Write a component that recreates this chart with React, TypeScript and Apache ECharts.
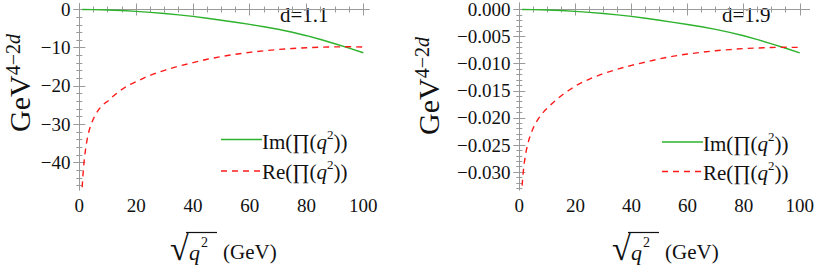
import React, { useEffect, useRef } from "react";
import * as echarts from "echarts";

// ---- data ----
const xIm = [1, 5, 10, 15, 20, 25, 30, 35, 40, 45, 50, 55, 60, 65, 70, 75, 80, 85, 90, 95, 100];
const imLeft = [0, -0.03, -0.12, -0.27, -0.48, -0.75, -1.05, -1.4, -1.8, -2.28, -2.8, -3.34, -3.9, -4.5, -5.17, -5.95, -6.85, -7.85, -8.95, -10.1, -11.3];
const imRight = [0, -0.00002, -0.00008, -0.00019, -0.00034, -0.00053, -0.00074, -0.00099, -0.00127, -0.00161, -0.00198, -0.00237, -0.00276, -0.00319, -0.00366, -0.00421, -0.00485, -0.00556, -0.00634, -0.00715, -0.008];

const xRe = [1, 1.25, 1.5, 1.75, 2, 2.5, 3, 3.5, 4, 5, 6, 7, 8, 9, 10, 12, 14, 16, 18, 20, 23, 26, 30, 35, 40, 45, 50, 55, 60, 65, 70, 75, 80, 85, 90, 95, 100];
const reLeft = [-46.5, -43.5, -41.2, -39.2, -37.6, -35.0, -33.0, -31.5, -30.3, -28.5, -27.1, -26.0, -25.1, -24.5, -24.0, -22.6, -21.4, -20.4, -19.6, -18.9, -17.8, -16.9, -15.9, -14.8, -13.9, -13.0, -12.3, -11.7, -11.2, -10.8, -10.45, -10.2, -10.0, -9.85, -9.78, -9.75, -9.82];
const reRight = [-0.0325, -0.0308, -0.0295, -0.0284, -0.0275, -0.026, -0.0249, -0.0239, -0.0231, -0.0218, -0.0208, -0.02, -0.0193, -0.0187, -0.0182, -0.0172, -0.0163, -0.0155, -0.0148, -0.0141, -0.0133, -0.0126, -0.0118, -0.011, -0.0103, -0.0097, -0.0091, -0.0086, -0.0082, -0.0079, -0.0076, -0.0074, -0.0072, -0.0071, -0.007, -0.00697, -0.007];

// ---- ticks ----
const xMajor = [0, 20, 40, 60, 80, 100];
const xMinor = [5, 10, 15, 25, 30, 35, 45, 50, 55, 65, 70, 75, 85, 90, 95];
const yMajorLeft = [0, -10, -20, -30, -40];
const yMinorLeft = [-2, -4, -6, -8, -12, -14, -16, -18, -22, -24, -26, -28, -32, -34, -36, -38, -42, -44, -46];
const yMajorRight = [0, -0.005, -0.01, -0.015, -0.02, -0.025, -0.03];
const yMinorRight = [
  -0.001, -0.002, -0.003, -0.004, -0.006, -0.007, -0.008, -0.009, -0.011, -0.012, -0.013, -0.014,
  -0.016, -0.017, -0.018, -0.019, -0.021, -0.022, -0.023, -0.024, -0.026, -0.027, -0.028, -0.029,
  -0.031, -0.032, -0.033,
];
const dLabels = ["d=1.1", "d=1.9"];

const SERIF = "Liberation Serif";
const FRAME = "#9a9a9a";
const GREEN = "#2db22d";
const RED = "#ff1a1a";
const INK = "#111";

function zip(xs: number[], ys: number[]) {
  return xs.map((x, i) => [x, ys[i]]);
}

export default function App() {
  const ref = useRef<HTMLDivElement>(null);
  useEffect(() => {
    document.body.style.margin = "0";
    const chart = echarts.init(ref.current!, null, { renderer: "svg" });

    const grids = [
      { left: 76.5, top: 0.5, width: 292.5, height: 189.5 },
      { left: 516.5, top: 0.5, width: 293.5, height: 189.5 },
    ];
    const panels = [
      { xMin: -1, xMax: 102, yMin: -47.2, yMax: 1.6, major: yMajorLeft, minor: yMinorLeft, fmt: (v: number) => (v === 0 ? "0" : "\u2212" + Math.abs(v)) },
      { xMin: -1, xMax: 103.5, yMin: -0.0333, yMax: 0.0012, major: yMajorRight, minor: yMinorRight, fmt: (v: number) => (v === 0 ? "0.000" : "\u2212" + Math.abs(v).toFixed(3)) },
    ];

    const tickLabel = { fontFamily: SERIF, fontSize: 19, color: INK };
    const xAxes: any[] = [];
    const yAxes: any[] = [];
    const series: any[] = [];

    panels.forEach((pn, g) => {
      const baseX = { type: "value", gridIndex: g, min: pn.xMin, max: pn.xMax, splitLine: { show: false } };
      const sides: [string, boolean, number, number[], boolean][] = [
        ["bottom", true, 6, xMajor, true],
        ["bottom", false, 3, xMinor, false],
        ["top", true, 6, xMajor, false],
        ["top", false, 3, xMinor, false],
      ];
      sides.forEach(([pos, line, len, vals, lab]) => {
        xAxes.push({
          ...baseX,
          position: pos,
          axisLine: { show: line, lineStyle: { color: FRAME, width: 1 } },
          axisTick: { show: true, inside: true, length: len, customValues: vals, lineStyle: { color: FRAME } },
          axisLabel: lab ? { show: true, customValues: xMajor, margin: 6, ...tickLabel } : { show: false },
        });
      });
      const baseY = { type: "value", gridIndex: g, min: pn.yMin, max: pn.yMax, splitLine: { show: false } };
      const ySides: [string, boolean, number, number[], boolean][] = [
        ["left", true, 6, pn.major, true],
        ["left", false, 3, pn.minor, false],
        ["right", true, 6, pn.major, false],
        ["right", false, 3, pn.minor, false],
      ];
      ySides.forEach(([pos, line, len, vals, lab]) => {
        yAxes.push({
          ...baseY,
          position: pos,
          axisLine: { show: line, lineStyle: { color: FRAME, width: 1 } },
          axisTick: { show: true, inside: true, length: len, customValues: vals, lineStyle: { color: FRAME } },
          axisLabel: lab ? { show: true, customValues: pn.major, formatter: pn.fmt, margin: 6, ...tickLabel } : { show: false },
        });
      });

      series.push({
        type: "line",
        name: "Im",
        xAxisIndex: 4 * g,
        yAxisIndex: 4 * g,
        data: zip(xIm, g === 0 ? imLeft : imRight),
        showSymbol: false,
        lineStyle: { color: GREEN, width: 1.4 },
        z: 3,
      });
      series.push({
        type: "line",
        name: "Re",
        xAxisIndex: 4 * g,
        yAxisIndex: 4 * g,
        data: zip(xRe, g === 0 ? reLeft : reRight),
        showSymbol: false,
        lineStyle: { color: RED, width: 1.4, type: [6, 5] },
        z: 4,
      });
    });

    const graphics: any[] = [];
    const panelOffsets = [
      { yTitleX: 19, yTitleY: 83, legX: 221, imY: 139.5, reY: 171, dX: 280, sqrtX: 170 },
      { yTitleX: 428, yTitleY: 86, legX: 662, imY: 142, reY: 171.5, dX: 722, sqrtX: 612 },
    ];
    panelOffsets.forEach((p, g) => {
      graphics.push({
        type: "text",
        x: p.yTitleX,
        y: p.yTitleY,
        rotation: Math.PI / 2,
        style: {
          text: "{g|GeV}{s|4\u22122}{d|d}",
          align: "center",
          verticalAlign: "middle",
          fill: INK,
          rich: {
            g: { fontSize: 30, fontFamily: SERIF, lineHeight: 33, fill: INK },
            s: { fontSize: 20, fontFamily: SERIF, lineHeight: 20, verticalAlign: "top", fill: INK },
            d: { fontSize: 20, fontFamily: SERIF, fontStyle: "italic", lineHeight: 20, verticalAlign: "top", fill: INK },
          },
        },
      });
      graphics.push({
        type: "text",
        x: p.dX,
        y: 15,
        style: { text: dLabels[g], fontSize: 21, fontFamily: SERIF, fill: INK, align: "left", verticalAlign: "middle" },
      });
      graphics.push({
        type: "line",
        shape: { x1: p.legX, y1: p.imY, x2: p.legX + 41, y2: p.imY },
        style: { stroke: GREEN, lineWidth: 1.4 },
      });
      graphics.push({
        type: "line",
        shape: { x1: p.legX, y1: p.reY, x2: p.legX + 41, y2: p.reY },
        style: { stroke: RED, lineWidth: 1.4, lineDash: [6, 5] },
      });
      const legRich = {
        a: { fontSize: 21, fontFamily: SERIF, lineHeight: 28, fill: INK },
        q: { fontSize: 21, fontFamily: SERIF, fontStyle: "italic", lineHeight: 28, fill: INK },
        s: { fontSize: 13, fontFamily: SERIF, lineHeight: 13, verticalAlign: "top", fill: INK },
      };
      graphics.push({
        type: "text",
        x: p.legX + 41,
        y: p.imY + 2,
        style: { text: "{a|Im(\u220F(}{q|q}{s|2}{a|))}", align: "left", verticalAlign: "middle", rich: legRich },
      });
      graphics.push({
        type: "text",
        x: p.legX + 41,
        y: p.reY + 1,
        style: { text: "{a|Re(\u220F(}{q|q}{s|2}{a|))}", align: "left", verticalAlign: "middle", rich: legRich },
      });
      const sx = p.sqrtX;
      graphics.push({
        type: "text",
        x: sx,
        y: 248,
        style: { text: "\u221A", fontSize: 34, fontFamily: SERIF, fill: INK, align: "left", verticalAlign: "middle" },
      });
      graphics.push({
        type: "line",
        shape: { x1: sx + 16, y1: 232.5, x2: sx + 47, y2: 232.5 },
        style: { stroke: INK, lineWidth: 1.2 },
      });
      graphics.push({
        type: "text",
        x: sx + 19,
        y: 252,
        style: { text: "q", fontSize: 22, fontFamily: SERIF, fontStyle: "italic", fill: INK, align: "left", verticalAlign: "middle" },
      });
      graphics.push({
        type: "text",
        x: sx + 31,
        y: 242,
        style: { text: "2", fontSize: 14, fontFamily: SERIF, fill: INK, align: "left", verticalAlign: "middle" },
      });
      graphics.push({
        type: "text",
        x: sx + 53,
        y: 252,
        style: { text: "(GeV)", fontSize: 21, fontFamily: SERIF, fill: INK, align: "left", verticalAlign: "middle" },
      });
    });

    chart.setOption({
      animation: false,
      textStyle: { fontFamily: SERIF },
      grid: grids,
      xAxis: xAxes,
      yAxis: yAxes,
      series,
      graphic: graphics,
    });
    return () => chart.dispose();
  }, []);
  return <div ref={ref} style={{ width: 817, height: 268 }} />;
}
